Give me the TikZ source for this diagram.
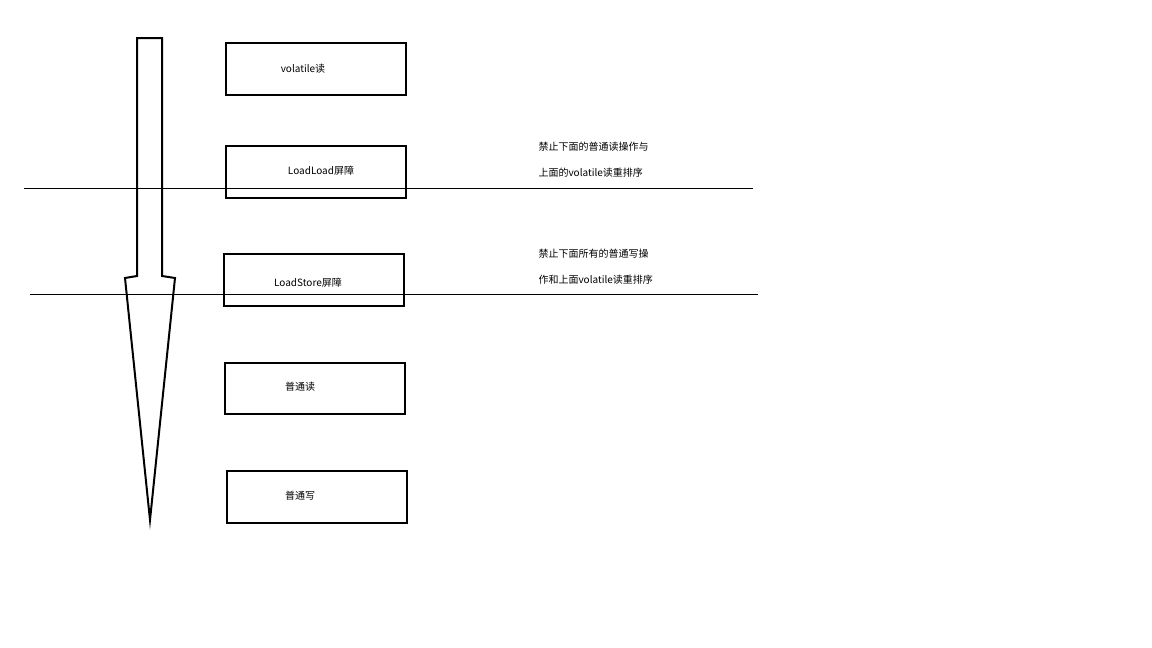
\documentclass[tikz,border=0pt]{standalone}
\usepackage{fontspec}
\setmainfont{Noto Sans CJK SC}
\tikzset{box/.style={draw, line width=2.2pt}, lbl/.style={font=\fontsize{10}{12}\selectfont}}
\begin{document}
\begin{tikzpicture}[x=1pt,y=-1pt]
\useasboundingbox (0,0) rectangle (1152,648);
\draw[line width=2pt, line join=miter] (137,38)--(162,38)--(162,276)--(175,278)--(150,520)--(125,278)--(137,276)--cycle;
\draw[box] (226,43) rectangle (406,95);
\draw[box] (226,146) rectangle (406,198);
\draw[box] (224,254) rectangle (404,306);
\draw[box] (225,363) rectangle (405,414);
\draw[box] (227,471) rectangle (407,523);
\draw (24,188)--(753,188);
\draw (30,294)--(758,294);
\node[lbl] at (303,69) {volatile读};
\node[lbl] at (321,171) {LoadLoad屏障};
\node[lbl] at (308,283) {LoadStore屏障};
\node[lbl] at (300,387) {普通读};
\node[lbl] at (300,496) {普通写};
\node[lbl, anchor=west] at (535,147) {禁止下面的普通读操作与};
\node[lbl, anchor=west] at (535,173) {上面的volatile读重排序};
\node[lbl, anchor=west] at (535,254) {禁止下面所有的普通写操};
\node[lbl, anchor=west] at (535,280) {作和上面volatile读重排序};
\end{tikzpicture}
\end{document}
